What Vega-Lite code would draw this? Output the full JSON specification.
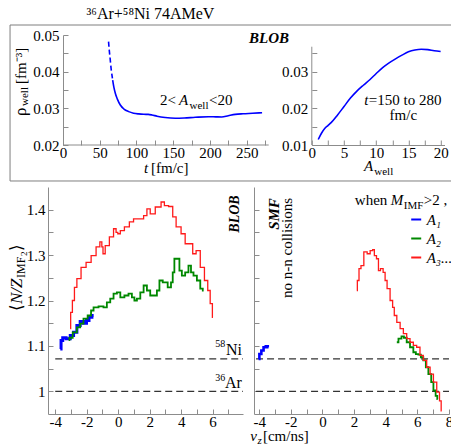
{
"$schema": "https://vega.github.io/schema/vega-lite/v6.json",
"padding": {"left": 8, "top": 5, "right": 0, "bottom": 0},
"spacing": 5,
"background": "white",
"config": {
  "font": "Liberation Serif",
  "view": {"stroke": null},
  "title": {"font": "Liberation Serif", "fontWeight": "normal", "color": "#000"},
  "axis": {"domainColor": "#8c8c8c", "tickColor": "#8c8c8c", "labelColor": "#000", "labelFontSize": 15, "labelFont": "Liberation Serif", "tickSize": -5, "labelPadding": 8, "grid": false, "labelFlush": false, "labelOverlap": false},
  "text": {"color": "#000"}
},
"datasets": {
  "rhoT": [
    {"t": 62, "rho": 0.0482, "part": "dashed"}, {"t": 63, "rho": 0.0458, "part": "dashed"}, {"t": 64.2, "rho": 0.0435, "part": "dashed"}, {"t": 65.5, "rho": 0.0408, "part": "dashed"}, {"t": 66.7, "rho": 0.039, "part": "dashed"}, {"t": 67.6, "rho": 0.0377, "part": "dashed"},
    {"t": 67.6, "rho": 0.0377, "part": "solid"}, {"t": 69.3, "rho": 0.0357, "part": "solid"}, {"t": 71.2, "rho": 0.0341, "part": "solid"}, {"t": 74, "rho": 0.0325, "part": "solid"}, {"t": 78, "rho": 0.0309, "part": "solid"}, {"t": 83, "rho": 0.0298, "part": "solid"}, {"t": 89.4, "rho": 0.0291, "part": "solid"}, {"t": 96, "rho": 0.02868, "part": "solid"}, {"t": 103, "rho": 0.02848, "part": "solid"}, {"t": 110, "rho": 0.02838, "part": "solid"}, {"t": 116, "rho": 0.02835, "part": "solid"}, {"t": 121, "rho": 0.0282, "part": "solid"}, {"t": 128, "rho": 0.02785, "part": "solid"}, {"t": 139, "rho": 0.02748, "part": "solid"}, {"t": 152.8, "rho": 0.02728, "part": "solid"}, {"t": 165, "rho": 0.02735, "part": "solid"}, {"t": 180, "rho": 0.02755, "part": "solid"}, {"t": 198, "rho": 0.02772, "part": "solid"}, {"t": 208, "rho": 0.02768, "part": "solid"}, {"t": 216, "rho": 0.02765, "part": "solid"}, {"t": 225, "rho": 0.028, "part": "solid"}, {"t": 234.5, "rho": 0.02835, "part": "solid"}, {"t": 245, "rho": 0.02852, "part": "solid"}, {"t": 258, "rho": 0.02865, "part": "solid"}, {"t": 271, "rho": 0.0288, "part": "solid"}
  ],
  "rhoA": [
    {"A": 1, "rho": 0.0115}, {"A": 1.5, "rho": 0.0132}, {"A": 2, "rho": 0.0145}, {"A": 2.5, "rho": 0.0153}, {"A": 3, "rho": 0.0161}, {"A": 4, "rho": 0.0182}, {"A": 5, "rho": 0.0205}, {"A": 6, "rho": 0.0228}, {"A": 7, "rho": 0.0247}, {"A": 8, "rho": 0.0263}, {"A": 9, "rho": 0.0278}, {"A": 10, "rho": 0.0295}, {"A": 11, "rho": 0.0311}, {"A": 12, "rho": 0.0324}, {"A": 13, "rho": 0.0335}, {"A": 14, "rho": 0.0345}, {"A": 15, "rho": 0.0354}, {"A": 16, "rho": 0.0359}, {"A": 17, "rho": 0.0361}, {"A": 18, "rho": 0.036}, {"A": 19, "rho": 0.0357}, {"A": 20, "rho": 0.0355}
  ],
  "ref": [{"nucleus": "58Ni", "nz": 1.0714}, {"nucleus": "36Ar", "nz": 1.0}],
  "nz": [
    {"panel": "BLOB", "series": "A₁", "vz": -3.68, "nz": 1.093}, {"panel": "BLOB", "series": "A₁", "vz": -3.58, "nz": 1.112}, {"panel": "BLOB", "series": "A₁", "vz": -3.47, "nz": 1.118}, {"panel": "BLOB", "series": "A₁", "vz": -3.15, "nz": 1.116}, {"panel": "BLOB", "series": "A₁", "vz": -2.94, "nz": 1.123}, {"panel": "BLOB", "series": "A₁", "vz": -2.73, "nz": 1.13}, {"panel": "BLOB", "series": "A₁", "vz": -2.52, "nz": 1.145}, {"panel": "BLOB", "series": "A₁", "vz": -2.31, "nz": 1.154}, {"panel": "BLOB", "series": "A₁", "vz": -2.1, "nz": 1.15}, {"panel": "BLOB", "series": "A₁", "vz": -1.93, "nz": 1.156}, {"panel": "BLOB", "series": "A₁", "vz": -1.78, "nz": 1.163}, {"panel": "BLOB", "series": "A₁", "vz": -1.56, "nz": 1.167},
    {"panel": "BLOB", "series": "A₂", "vz": -3.15, "nz": 1.113}, {"panel": "BLOB", "series": "A₂", "vz": -3.05, "nz": 1.118}, {"panel": "BLOB", "series": "A₂", "vz": -2.73, "nz": 1.13}, {"panel": "BLOB", "series": "A₂", "vz": -2.52, "nz": 1.141}, {"panel": "BLOB", "series": "A₂", "vz": -2.31, "nz": 1.149}, {"panel": "BLOB", "series": "A₂", "vz": -2.1, "nz": 1.16}, {"panel": "BLOB", "series": "A₂", "vz": -1.78, "nz": 1.167}, {"panel": "BLOB", "series": "A₂", "vz": -1.67, "nz": 1.178}, {"panel": "BLOB", "series": "A₂", "vz": -1.46, "nz": 1.185}, {"panel": "BLOB", "series": "A₂", "vz": -1.04, "nz": 1.187}, {"panel": "BLOB", "series": "A₂", "vz": -0.83, "nz": 1.185}, {"panel": "BLOB", "series": "A₂", "vz": -0.61, "nz": 1.196}, {"panel": "BLOB", "series": "A₂", "vz": -0.4, "nz": 1.204}, {"panel": "BLOB", "series": "A₂", "vz": -0.19, "nz": 1.215}, {"panel": "BLOB", "series": "A₂", "vz": 0.03, "nz": 1.218}, {"panel": "BLOB", "series": "A₂", "vz": 0.24, "nz": 1.207}, {"panel": "BLOB", "series": "A₂", "vz": 0.55, "nz": 1.211}, {"panel": "BLOB", "series": "A₂", "vz": 0.76, "nz": 1.215}, {"panel": "BLOB", "series": "A₂", "vz": 0.98, "nz": 1.207}, {"panel": "BLOB", "series": "A₂", "vz": 1.08, "nz": 1.2}, {"panel": "BLOB", "series": "A₂", "vz": 1.3, "nz": 1.204}, {"panel": "BLOB", "series": "A₂", "vz": 1.51, "nz": 1.218}, {"panel": "BLOB", "series": "A₂", "vz": 1.72, "nz": 1.233}, {"panel": "BLOB", "series": "A₂", "vz": 1.93, "nz": 1.222}, {"panel": "BLOB", "series": "A₂", "vz": 2.14, "nz": 1.211}, {"panel": "BLOB", "series": "A₂", "vz": 2.35, "nz": 1.211}, {"panel": "BLOB", "series": "A₂", "vz": 2.57, "nz": 1.222}, {"panel": "BLOB", "series": "A₂", "vz": 2.67, "nz": 1.244}, {"panel": "BLOB", "series": "A₂", "vz": 2.99, "nz": 1.24}, {"panel": "BLOB", "series": "A₂", "vz": 3.3, "nz": 1.229}, {"panel": "BLOB", "series": "A₂", "vz": 3.41, "nz": 1.24}, {"panel": "BLOB", "series": "A₂", "vz": 3.52, "nz": 1.262}, {"panel": "BLOB", "series": "A₂", "vz": 3.62, "nz": 1.292}, {"panel": "BLOB", "series": "A₂", "vz": 3.84, "nz": 1.292}, {"panel": "BLOB", "series": "A₂", "vz": 3.94, "nz": 1.266}, {"panel": "BLOB", "series": "A₂", "vz": 4.15, "nz": 1.255}, {"panel": "BLOB", "series": "A₂", "vz": 4.36, "nz": 1.262}, {"panel": "BLOB", "series": "A₂", "vz": 4.57, "nz": 1.277}, {"panel": "BLOB", "series": "A₂", "vz": 4.68, "nz": 1.262}, {"panel": "BLOB", "series": "A₂", "vz": 4.89, "nz": 1.255}, {"panel": "BLOB", "series": "A₂", "vz": 5.11, "nz": 1.244}, {"panel": "BLOB", "series": "A₂", "vz": 5.32, "nz": 1.226}, {"panel": "BLOB", "series": "A₂", "vz": 5.43, "nz": 1.222},
    {"panel": "BLOB", "series": "A₃...", "vz": -3.05, "nz": 1.138}, {"panel": "BLOB", "series": "A₃...", "vz": -2.99, "nz": 1.174}, {"panel": "BLOB", "series": "A₃...", "vz": -2.83, "nz": 1.2}, {"panel": "BLOB", "series": "A₃...", "vz": -2.73, "nz": 1.229}, {"panel": "BLOB", "series": "A₃...", "vz": -2.52, "nz": 1.248}, {"panel": "BLOB", "series": "A₃...", "vz": -2.2, "nz": 1.273}, {"panel": "BLOB", "series": "A₃...", "vz": -1.88, "nz": 1.284}, {"panel": "BLOB", "series": "A₃...", "vz": -1.56, "nz": 1.299}, {"panel": "BLOB", "series": "A₃...", "vz": -1.25, "nz": 1.318}, {"panel": "BLOB", "series": "A₃...", "vz": -1.08, "nz": 1.329}, {"panel": "BLOB", "series": "A₃...", "vz": -1.0, "nz": 1.318}, {"panel": "BLOB", "series": "A₃...", "vz": -0.93, "nz": 1.303}, {"panel": "BLOB", "series": "A₃...", "vz": -0.72, "nz": 1.321}, {"panel": "BLOB", "series": "A₃...", "vz": -0.4, "nz": 1.34}, {"panel": "BLOB", "series": "A₃...", "vz": -0.19, "nz": 1.358}, {"panel": "BLOB", "series": "A₃...", "vz": -0.08, "nz": 1.35}, {"panel": "BLOB", "series": "A₃...", "vz": 0.03, "nz": 1.347}, {"panel": "BLOB", "series": "A₃...", "vz": 0.24, "nz": 1.354}, {"panel": "BLOB", "series": "A₃...", "vz": 0.55, "nz": 1.362}, {"panel": "BLOB", "series": "A₃...", "vz": 0.87, "nz": 1.373}, {"panel": "BLOB", "series": "A₃...", "vz": 1.08, "nz": 1.38}, {"panel": "BLOB", "series": "A₃...", "vz": 1.51, "nz": 1.38}, {"panel": "BLOB", "series": "A₃...", "vz": 1.72, "nz": 1.387}, {"panel": "BLOB", "series": "A₃...", "vz": 1.93, "nz": 1.402}, {"panel": "BLOB", "series": "A₃...", "vz": 2.14, "nz": 1.391}, {"panel": "BLOB", "series": "A₃...", "vz": 2.57, "nz": 1.406}, {"panel": "BLOB", "series": "A₃...", "vz": 2.88, "nz": 1.417}, {"panel": "BLOB", "series": "A₃...", "vz": 2.99, "nz": 1.409}, {"panel": "BLOB", "series": "A₃...", "vz": 3.41, "nz": 1.407}, {"panel": "BLOB", "series": "A₃...", "vz": 3.52, "nz": 1.384}, {"panel": "BLOB", "series": "A₃...", "vz": 3.84, "nz": 1.362}, {"panel": "BLOB", "series": "A₃...", "vz": 4.15, "nz": 1.347}, {"panel": "BLOB", "series": "A₃...", "vz": 4.36, "nz": 1.325}, {"panel": "BLOB", "series": "A₃...", "vz": 4.68, "nz": 1.325}, {"panel": "BLOB", "series": "A₃...", "vz": 4.79, "nz": 1.303}, {"panel": "BLOB", "series": "A₃...", "vz": 5.11, "nz": 1.31}, {"panel": "BLOB", "series": "A₃...", "vz": 5.32, "nz": 1.273}, {"panel": "BLOB", "series": "A₃...", "vz": 5.64, "nz": 1.244}, {"panel": "BLOB", "series": "A₃...", "vz": 5.74, "nz": 1.222}, {"panel": "BLOB", "series": "A₃...", "vz": 5.95, "nz": 1.193}, {"panel": "BLOB", "series": "A₃...", "vz": 6.02, "nz": 1.163},
    {"panel": "SMF", "series": "A₁", "vz": -4.04, "nz": 1.071}, {"panel": "SMF", "series": "A₁", "vz": -3.94, "nz": 1.082}, {"panel": "SMF", "series": "A₁", "vz": -3.79, "nz": 1.09}, {"panel": "SMF", "series": "A₁", "vz": -3.66, "nz": 1.097}, {"panel": "SMF", "series": "A₁", "vz": -3.51, "nz": 1.099}, {"panel": "SMF", "series": "A₁", "vz": -3.41, "nz": 1.097},
    {"panel": "SMF", "series": "A₂", "vz": 4.7, "nz": 1.108}, {"panel": "SMF", "series": "A₂", "vz": 4.91, "nz": 1.116}, {"panel": "SMF", "series": "A₂", "vz": 5.08, "nz": 1.121}, {"panel": "SMF", "series": "A₂", "vz": 5.22, "nz": 1.118}, {"panel": "SMF", "series": "A₂", "vz": 5.43, "nz": 1.108}, {"panel": "SMF", "series": "A₂", "vz": 5.64, "nz": 1.097}, {"panel": "SMF", "series": "A₂", "vz": 5.85, "nz": 1.086}, {"panel": "SMF", "series": "A₂", "vz": 5.96, "nz": 1.082}, {"panel": "SMF", "series": "A₂", "vz": 6.17, "nz": 1.081}, {"panel": "SMF", "series": "A₂", "vz": 6.27, "nz": 1.075}, {"panel": "SMF", "series": "A₂", "vz": 6.48, "nz": 1.068}, {"panel": "SMF", "series": "A₂", "vz": 6.59, "nz": 1.053}, {"panel": "SMF", "series": "A₂", "vz": 6.8, "nz": 1.038}, {"panel": "SMF", "series": "A₂", "vz": 6.95, "nz": 1.02}, {"panel": "SMF", "series": "A₂", "vz": 7.08, "nz": 1.002}, {"panel": "SMF", "series": "A₂", "vz": 7.23, "nz": 0.99}, {"panel": "SMF", "series": "A₂", "vz": 7.29, "nz": 0.983},
    {"panel": "SMF", "series": "A₃...", "vz": 2.17, "nz": 1.222}, {"panel": "SMF", "series": "A₃...", "vz": 2.24, "nz": 1.244}, {"panel": "SMF", "series": "A₃...", "vz": 2.38, "nz": 1.27}, {"panel": "SMF", "series": "A₃...", "vz": 2.49, "nz": 1.277}, {"panel": "SMF", "series": "A₃...", "vz": 2.74, "nz": 1.307}, {"panel": "SMF", "series": "A₃...", "vz": 2.91, "nz": 1.303}, {"panel": "SMF", "series": "A₃...", "vz": 3.12, "nz": 1.31}, {"panel": "SMF", "series": "A₃...", "vz": 3.23, "nz": 1.312}, {"panel": "SMF", "series": "A₃...", "vz": 3.33, "nz": 1.299}, {"panel": "SMF", "series": "A₃...", "vz": 3.5, "nz": 1.292}, {"panel": "SMF", "series": "A₃...", "vz": 3.58, "nz": 1.266}, {"panel": "SMF", "series": "A₃...", "vz": 3.75, "nz": 1.27}, {"panel": "SMF", "series": "A₃...", "vz": 3.92, "nz": 1.262}, {"panel": "SMF", "series": "A₃...", "vz": 4.0, "nz": 1.244}, {"panel": "SMF", "series": "A₃...", "vz": 4.17, "nz": 1.226}, {"panel": "SMF", "series": "A₃...", "vz": 4.38, "nz": 1.2}, {"panel": "SMF", "series": "A₃...", "vz": 4.49, "nz": 1.185}, {"panel": "SMF", "series": "A₃...", "vz": 4.59, "nz": 1.167}, {"panel": "SMF", "series": "A₃...", "vz": 4.81, "nz": 1.152}, {"panel": "SMF", "series": "A₃...", "vz": 5.01, "nz": 1.138}, {"panel": "SMF", "series": "A₃...", "vz": 5.22, "nz": 1.127}, {"panel": "SMF", "series": "A₃...", "vz": 5.43, "nz": 1.116}, {"panel": "SMF", "series": "A₃...", "vz": 5.64, "nz": 1.108}, {"panel": "SMF", "series": "A₃...", "vz": 5.85, "nz": 1.101}, {"panel": "SMF", "series": "A₃...", "vz": 6.06, "nz": 1.097}, {"panel": "SMF", "series": "A₃...", "vz": 6.27, "nz": 1.079}, {"panel": "SMF", "series": "A₃...", "vz": 6.48, "nz": 1.068}, {"panel": "SMF", "series": "A₃...", "vz": 6.7, "nz": 1.053}, {"panel": "SMF", "series": "A₃...", "vz": 6.91, "nz": 1.038}, {"panel": "SMF", "series": "A₃...", "vz": 7.12, "nz": 1.02}, {"panel": "SMF", "series": "A₃...", "vz": 7.33, "nz": 0.998}, {"panel": "SMF", "series": "A₃...", "vz": 7.47, "nz": 0.979}, {"panel": "SMF", "series": "A₃...", "vz": 7.54, "nz": 0.957}
  ]
},
"vconcat": [
{
  "title": {"text": "³⁶Ar+⁵⁸Ni 74AMeV", "anchor": "start", "dx": 77, "fontSize": 16, "offset": 3},
  "bounds": "flush",
  "spacing": 42.8,
  "hconcat": [
  {
    "width": 220.7, "height": 110,
    "data": {"values": [{}]},
    "layer": [
      {"data": {"name": "rhoT"}, "transform": [{"filter": "datum.part == 'dashed'"}],
       "mark": {"type": "line", "color": "#0000ff", "strokeWidth": 1.6, "strokeDash": [5, 3], "interpolate": "monotone"},
       "encoding": {
         "x": {"field": "t", "type": "quantitative", "scale": {"domain": [-20.42, 280], "nice": false, "zero": false},
               "axis": {"orient": "bottom", "title": null, "domain": false, "labelOverlap": false, "tickCount": 1000, "values": [0, 25, 50, 75, 100, 125, 150, 175, 200, 225, 250, 275], "labelExpr": "datum.value % 50 == 0 ? '' + datum.value : ''", "labelPadding": 5}},
         "y": {"field": "rho", "type": "quantitative", "scale": {"domain": [0.02, 0.05], "nice": false, "zero": false},
               "axis": {"orient": "left", "offset": -15, "title": null, "labelOverlap": false, "tickCount": 1000, "values": [0.02, 0.025, 0.03, 0.035, 0.04, 0.045, 0.05], "labelExpr": "round(datum.value * 1000) % 10 == 0 ? format(datum.value, '.2f') : ''", "labelPadding": 9}}
       }},
      {"data": {"name": "rhoT"}, "transform": [{"filter": "datum.part == 'solid'"}],
       "mark": {"type": "line", "color": "#0000ff", "strokeWidth": 1.6, "interpolate": "monotone"},
       "encoding": {"x": {"field": "t", "type": "quantitative", "axis": {"title": null}}, "y": {"field": "rho", "type": "quantitative", "axis": {"title": null}}}},
      {"mark": {"type": "rule", "color": "#8c8c8c", "strokeWidth": 1},
       "encoding": {"x": {"datum": 0, "type": "quantitative", "axis": {"title": null}}, "x2": {"datum": 280}, "y": {"datum": 0.02, "type": "quantitative", "axis": {"title": null}}}},
      {"mark": {"type": "rect", "filled": false, "stroke": "#7f7f7f", "strokeWidth": 1},
       "encoding": {"x": {"datum": -72.1, "type": "quantitative", "axis": {"title": null}}, "x2": {"datum": 530.1}, "y": {"datum": 0.010183, "type": "quantitative", "axis": {"title": null}}, "y2": {"datum": 0.052725}}},
      {"mark": {"type": "text", "text": "BLOB", "fontSize": 15, "fontWeight": "bold", "fontStyle": "italic", "align": "center", "baseline": "alphabetic"}, "encoding": {"x": {"datum": 280.4, "type": "quantitative", "axis": {"title": null}}, "y": {"datum": 0.04782, "type": "quantitative", "axis": {"title": null}}}},
      {"mark": {"type": "text", "text": "2<", "fontSize": 15, "align": "left", "baseline": "alphabetic"}, "encoding": {"x": {"datum": 132.0, "type": "quantitative", "axis": {"title": null}}, "y": {"datum": 0.03104, "type": "quantitative", "axis": {"title": null}}}},
      {"mark": {"type": "text", "text": "A", "fontSize": 15, "fontStyle": "italic", "align": "left", "baseline": "alphabetic"}, "encoding": {"x": {"datum": 157.9, "type": "quantitative", "axis": {"title": null}}, "y": {"datum": 0.03104, "type": "quantitative", "axis": {"title": null}}}},
      {"mark": {"type": "text", "text": "well", "fontSize": 11, "align": "left", "baseline": "alphabetic"}, "encoding": {"x": {"datum": 172.2, "type": "quantitative", "axis": {"title": null}}, "y": {"datum": 0.02995, "type": "quantitative", "axis": {"title": null}}}},
      {"mark": {"type": "text", "text": "<20", "fontSize": 15, "align": "left", "baseline": "alphabetic"}, "encoding": {"x": {"datum": 198.7, "type": "quantitative", "axis": {"title": null}}, "y": {"datum": 0.03104, "type": "quantitative", "axis": {"title": null}}}},
      {"mark": {"type": "text", "text": "ρ", "fontSize": 17, "angle": 270, "align": "left", "baseline": "alphabetic"}, "encoding": {"x": {"datum": -51.0, "type": "quantitative", "axis": {"title": null}}, "y": {"datum": 0.02791, "type": "quantitative", "axis": {"title": null}}}},
      {"mark": {"type": "text", "text": "well", "fontSize": 11, "angle": 270, "align": "left", "baseline": "alphabetic"}, "encoding": {"x": {"datum": -47.0, "type": "quantitative", "axis": {"title": null}}, "y": {"datum": 0.03064, "type": "quantitative", "axis": {"title": null}}}},
      {"mark": {"type": "text", "text": "[fm⁻³]", "fontSize": 15, "angle": 270, "align": "left", "baseline": "alphabetic"}, "encoding": {"x": {"datum": -51.0, "type": "quantitative", "axis": {"title": null}}, "y": {"datum": 0.03663, "type": "quantitative", "axis": {"title": null}}}},
      {"mark": {"type": "text", "text": "t", "fontSize": 15, "fontStyle": "italic", "align": "left", "baseline": "alphabetic"}, "encoding": {"x": {"datum": 110.25, "type": "quantitative", "axis": {"title": null}}, "y": {"datum": 0.0125, "type": "quantitative", "axis": {"title": null}}}},
      {"mark": {"type": "text", "text": "[fm/c]", "fontSize": 15, "align": "left", "baseline": "alphabetic"}, "encoding": {"x": {"datum": 119.8, "type": "quantitative", "axis": {"title": null}}, "y": {"datum": 0.0125, "type": "quantitative", "axis": {"title": null}}}}
    ]
  },
  {
    "width": 132.7, "height": 110,
    "data": {"values": [{}]},
    "layer": [
      {"data": {"name": "rhoA"},
       "mark": {"type": "line", "color": "#0000ff", "strokeWidth": 1.6, "interpolate": "monotone"},
       "encoding": {
         "x": {"field": "A", "type": "quantitative", "scale": {"domain": [0, 20.6], "nice": false, "zero": false},
               "axis": {"orient": "bottom", "title": null, "labelOverlap": false, "tickCount": 1000, "values": [0, 2.5, 5, 7.5, 10, 12.5, 15, 17.5, 20], "labelExpr": "datum.value % 5 == 0 ? '' + datum.value : ''", "labelPadding": 5}},
         "y": {"field": "rho", "type": "quantitative", "scale": {"domain": [0.01, 0.04], "nice": false, "zero": false},
               "axis": {"orient": "left", "title": null, "domain": false, "labelOverlap": false, "tickCount": 1000, "values": [0.01, 0.015, 0.02, 0.025, 0.03, 0.035], "labelExpr": "round(datum.value * 1000) % 10 == 0 ? format(datum.value, '.2f') : ''", "labelPadding": 9}}
       }},
      {"mark": {"type": "rule", "color": "#8c8c8c", "strokeWidth": 1},
       "encoding": {"x": {"datum": 0, "type": "quantitative", "axis": {"title": null}}, "y": {"datum": 0.01, "type": "quantitative", "axis": {"title": null}}, "y2": {"datum": 0.0368}}},
      {"mark": {"type": "text", "text": "t", "fontSize": 15, "fontStyle": "italic", "align": "left", "baseline": "alphabetic"}, "encoding": {"x": {"datum": 8.15, "type": "quantitative", "axis": {"title": null}}, "y": {"datum": 0.02091, "type": "quantitative", "axis": {"title": null}}}},
      {"mark": {"type": "text", "text": "=150 to 280", "fontSize": 15, "align": "left", "baseline": "alphabetic"}, "encoding": {"x": {"datum": 8.85, "type": "quantitative", "axis": {"title": null}}, "y": {"datum": 0.02091, "type": "quantitative", "axis": {"title": null}}}},
      {"mark": {"type": "text", "text": "fm/c", "fontSize": 15, "align": "center", "baseline": "alphabetic"}, "encoding": {"x": {"datum": 14.21, "type": "quantitative", "axis": {"title": null}}, "y": {"datum": 0.01682, "type": "quantitative", "axis": {"title": null}}}},
      {"mark": {"type": "text", "text": "A", "fontSize": 15, "fontStyle": "italic", "align": "left", "baseline": "alphabetic"}, "encoding": {"x": {"datum": 8.11, "type": "quantitative", "axis": {"title": null}}, "y": {"datum": 0.00291, "type": "quantitative", "axis": {"title": null}}}},
      {"mark": {"type": "text", "text": "well", "fontSize": 11, "align": "left", "baseline": "alphabetic"}, "encoding": {"x": {"datum": 9.7, "type": "quantitative", "axis": {"title": null}}, "y": {"datum": 0.00182, "type": "quantitative", "axis": {"title": null}}}}
    ]
  }
  ]
},
{
  "bounds": "flush",
  "spacing": 11,
  "resolve": {"scale": {"color": "independent"}, "legend": {"color": "independent"}},
  "hconcat": [
  {
    "width": 195, "height": 227,
    "data": {"values": [{}]},
    "layer": [
      {"data": {"name": "ref"},
       "mark": {"type": "rule", "color": "#333", "strokeDash": [7, 4], "strokeWidth": 1.2},
       "encoding": {
         "x": {"datum": -4, "type": "quantitative", "scale": {"domain": [-4.46, 7.93], "nice": false, "zero": false},
               "axis": {"orient": "bottom", "title": null, "labelOverlap": false, "tickCount": 1000, "values": [-4, -3, -2, -1, 0, 1, 2, 3, 4, 5, 6, 7], "labelExpr": "datum.value % 2 == 0 ? '' + datum.value : ''", "labelPadding": 5}},
         "x2": {"datum": 7.93},
         "y": {"field": "nz", "type": "quantitative", "scale": {"domain": [0.95, 1.45], "nice": false, "zero": false},
               "axis": {"orient": "left", "title": null, "labelOverlap": false, "tickCount": 1000, "values": [1, 1.05, 1.1, 1.15, 1.2, 1.25, 1.3, 1.35, 1.4], "labelExpr": "round(datum.value * 100) % 10 == 0 ? format(datum.value, '~g') : ''", "labelPadding": 8}}
       }},
      {"data": {"name": "nz"}, "transform": [{"filter": "datum.panel == 'BLOB' && datum.series == 'A₁'"}],
       "mark": {"type": "line", "strokeWidth": 3, "interpolate": "step"},
       "encoding": {"x": {"field": "vz", "type": "quantitative", "axis": {"title": null}}, "y": {"field": "nz", "type": "quantitative", "axis": {"title": null}},
         "color": {"field": "series", "type": "nominal", "scale": {"domain": ["A₁", "A₂", "A₃..."], "range": ["#0000ff", "#008800", "#ff1a1a"]}, "legend": null}}},
      {"data": {"name": "nz"}, "transform": [{"filter": "datum.panel == 'BLOB' && datum.series == 'A₂'"}],
       "mark": {"type": "line", "strokeWidth": 1.8, "interpolate": "step"},
       "encoding": {"x": {"field": "vz", "type": "quantitative", "axis": {"title": null}}, "y": {"field": "nz", "type": "quantitative", "axis": {"title": null}}, "color": {"field": "series", "type": "nominal", "legend": null}}},
      {"data": {"name": "nz"}, "transform": [{"filter": "datum.panel == 'BLOB' && datum.series == 'A₃...'"}],
       "mark": {"type": "line", "strokeWidth": 1.3, "interpolate": "step"},
       "encoding": {"x": {"field": "vz", "type": "quantitative", "axis": {"title": null}}, "y": {"field": "nz", "type": "quantitative", "axis": {"title": null}}, "color": {"field": "series", "type": "nominal", "legend": null}}},
      {"mark": {"type": "text", "text": "58", "fontSize": 10, "align": "right", "baseline": "alphabetic"}, "encoding": {"x": {"datum": 6.81, "type": "quantitative", "axis": {"title": null}}, "y": {"datum": 1.0976, "type": "quantitative", "axis": {"title": null}}}},
      {"mark": {"type": "text", "text": "Ni", "fontSize": 16, "align": "right", "baseline": "alphabetic"}, "encoding": {"x": {"datum": 7.86, "type": "quantitative", "axis": {"title": null}}, "y": {"datum": 1.08, "type": "quantitative", "axis": {"title": null}}}},
      {"mark": {"type": "text", "text": "36", "fontSize": 10, "align": "right", "baseline": "alphabetic"}, "encoding": {"x": {"datum": 6.81, "type": "quantitative", "axis": {"title": null}}, "y": {"datum": 1.0227, "type": "quantitative", "axis": {"title": null}}}},
      {"mark": {"type": "text", "text": "Ar", "fontSize": 16, "align": "right", "baseline": "alphabetic"}, "encoding": {"x": {"datum": 7.86, "type": "quantitative", "axis": {"title": null}}, "y": {"datum": 1.00617, "type": "quantitative", "axis": {"title": null}}}},
      {"mark": {"type": "text", "text": "BLOB", "fontSize": 14, "fontWeight": "bold", "fontStyle": "italic", "angle": 270, "align": "center", "baseline": "alphabetic"}, "encoding": {"x": {"datum": 7.67, "type": "quantitative", "axis": {"title": null}}, "y": {"datum": 1.3905, "type": "quantitative", "axis": {"title": null}}}},
      {"mark": {"type": "text", "text": "⟨", "fontSize": 17, "angle": 270, "align": "left", "baseline": "alphabetic"}, "encoding": {"x": {"datum": -6.097, "type": "quantitative", "axis": {"title": null}}, "y": {"datum": 1.1769, "type": "quantitative", "axis": {"title": null}}}},
      {"mark": {"type": "text", "text": "N/Z", "fontSize": 17, "fontStyle": "italic", "angle": 270, "align": "left", "baseline": "alphabetic"}, "encoding": {"x": {"datum": -6.097, "type": "quantitative", "axis": {"title": null}}, "y": {"datum": 1.1923, "type": "quantitative", "axis": {"title": null}}}},
      {"mark": {"type": "text", "text": "IMF", "fontSize": 12, "angle": 270, "align": "left", "baseline": "alphabetic"}, "encoding": {"x": {"datum": -5.893, "type": "quantitative", "axis": {"title": null}}, "y": {"datum": 1.2496, "type": "quantitative", "axis": {"title": null}}}},
      {"mark": {"type": "text", "text": "2", "fontSize": 9, "angle": 270, "align": "left", "baseline": "alphabetic"}, "encoding": {"x": {"datum": -5.798, "type": "quantitative", "axis": {"title": null}}, "y": {"datum": 1.298, "type": "quantitative", "axis": {"title": null}}}},
      {"mark": {"type": "text", "text": "⟩", "fontSize": 17, "angle": 270, "align": "left", "baseline": "alphabetic"}, "encoding": {"x": {"datum": -6.097, "type": "quantitative", "axis": {"title": null}}, "y": {"datum": 1.309, "type": "quantitative", "axis": {"title": null}}}}
    ]
  },
  {
    "width": 195, "height": 227,
    "data": {"values": [{}]},
    "layer": [
      {"data": {"name": "ref"},
       "mark": {"type": "rule", "color": "#333", "strokeDash": [7, 4], "strokeWidth": 1.2},
       "encoding": {
         "x": {"datum": -4.2, "type": "quantitative", "scale": {"domain": [-4.33, 8], "nice": false, "zero": false},
               "axis": {"orient": "bottom", "title": null, "labelOverlap": false, "tickCount": 1000, "values": [-4, -3, -2, -1, 0, 1, 2, 3, 4, 5, 6, 7, 8], "labelExpr": "datum.value % 2 == 0 ? '' + datum.value : ''", "labelPadding": 5}},
         "x2": {"datum": 8},
         "y": {"field": "nz", "type": "quantitative", "scale": {"domain": [0.95, 1.45], "nice": false, "zero": false},
               "axis": {"orient": "left", "title": null, "labels": false, "tickCount": 1000, "values": [1, 1.05, 1.1, 1.15, 1.2, 1.25, 1.3, 1.35, 1.4]}}
       }},
      {"data": {"name": "nz"}, "transform": [{"filter": "datum.panel == 'SMF' && datum.series == 'A₁'"}],
       "mark": {"type": "line", "strokeWidth": 2.6, "interpolate": "step"},
       "encoding": {"x": {"field": "vz", "type": "quantitative", "axis": {"title": null}}, "y": {"field": "nz", "type": "quantitative", "axis": {"title": null}},
         "color": {"field": "series", "type": "nominal", "scale": {"domain": ["A₁", "A₂", "A₃..."], "range": ["#0000ff", "#008800", "#ff1a1a"]},
           "legend": {"orient": "none", "legendX": 154.7, "legendY": 25, "title": null, "symbolType": "stroke", "symbolSize": 100, "symbolStrokeWidth": 2, "labelFont": "Liberation Serif", "labelFontStyle": "italic", "labelFontSize": 15, "rowPadding": 3, "padding": 0, "labelOffset": 3}}}},
      {"data": {"name": "nz"}, "transform": [{"filter": "datum.panel == 'SMF' && datum.series == 'A₂'"}],
       "mark": {"type": "line", "strokeWidth": 1.8, "interpolate": "step"},
       "encoding": {"x": {"field": "vz", "type": "quantitative", "axis": {"title": null}}, "y": {"field": "nz", "type": "quantitative", "axis": {"title": null}}, "color": {"field": "series", "type": "nominal"}}},
      {"data": {"name": "nz"}, "transform": [{"filter": "datum.panel == 'SMF' && datum.series == 'A₃...'"}],
       "mark": {"type": "line", "strokeWidth": 1.3, "interpolate": "step"},
       "encoding": {"x": {"field": "vz", "type": "quantitative", "axis": {"title": null}}, "y": {"field": "nz", "type": "quantitative", "axis": {"title": null}}, "color": {"field": "series", "type": "nominal"}}},
      {"mark": {"type": "text", "text": "SMF", "fontSize": 15, "fontWeight": "bold", "fontStyle": "italic", "angle": 270, "align": "center", "baseline": "alphabetic"}, "encoding": {"x": {"datum": -2.756, "type": "quantitative", "axis": {"title": null}}, "y": {"datum": 1.3905, "type": "quantitative", "axis": {"title": null}}}},
      {"mark": {"type": "text", "text": "no n-n collisions", "fontSize": 15, "angle": 270, "align": "left", "baseline": "alphabetic"}, "encoding": {"x": {"datum": -1.934, "type": "quantitative", "axis": {"title": null}}, "y": {"datum": 1.2055, "type": "quantitative", "axis": {"title": null}}}},
      {"mark": {"type": "text", "text": "when", "fontSize": 15, "align": "left", "baseline": "alphabetic"}, "encoding": {"x": {"datum": 2.045, "type": "quantitative", "axis": {"title": null}}, "y": {"datum": 1.4104, "type": "quantitative", "axis": {"title": null}}}},
      {"mark": {"type": "text", "text": "M", "fontSize": 15, "fontStyle": "italic", "align": "left", "baseline": "alphabetic"}, "encoding": {"x": {"datum": 4.318, "type": "quantitative", "axis": {"title": null}}, "y": {"datum": 1.4104, "type": "quantitative", "axis": {"title": null}}}},
      {"mark": {"type": "text", "text": "IMF", "fontSize": 11, "align": "left", "baseline": "alphabetic"}, "encoding": {"x": {"datum": 5.141, "type": "quantitative", "axis": {"title": null}}, "y": {"datum": 1.4015, "type": "quantitative", "axis": {"title": null}}}},
      {"mark": {"type": "text", "text": ">2 ,", "fontSize": 15, "align": "left", "baseline": "alphabetic"}, "encoding": {"x": {"datum": 6.404, "type": "quantitative", "axis": {"title": null}}, "y": {"datum": 1.4104, "type": "quantitative", "axis": {"title": null}}}},
      {"mark": {"type": "text", "text": "v", "fontSize": 15, "fontStyle": "italic", "align": "left", "baseline": "alphabetic"}, "encoding": {"x": {"datum": -4.569, "type": "quantitative", "axis": {"title": null}}, "y": {"datum": 0.8905, "type": "quantitative", "axis": {"title": null}}}},
      {"mark": {"type": "text", "text": "z", "fontSize": 11, "fontStyle": "italic", "align": "left", "baseline": "alphabetic"}, "encoding": {"x": {"datum": -4.114, "type": "quantitative", "axis": {"title": null}}, "y": {"datum": 0.8839, "type": "quantitative", "axis": {"title": null}}}},
      {"mark": {"type": "text", "text": "[cm/ns]", "fontSize": 15, "align": "left", "baseline": "alphabetic"}, "encoding": {"x": {"datum": -3.766, "type": "quantitative", "axis": {"title": null}}, "y": {"datum": 0.8905, "type": "quantitative", "axis": {"title": null}}}}
    ]
  }
  ]
}
]
}
